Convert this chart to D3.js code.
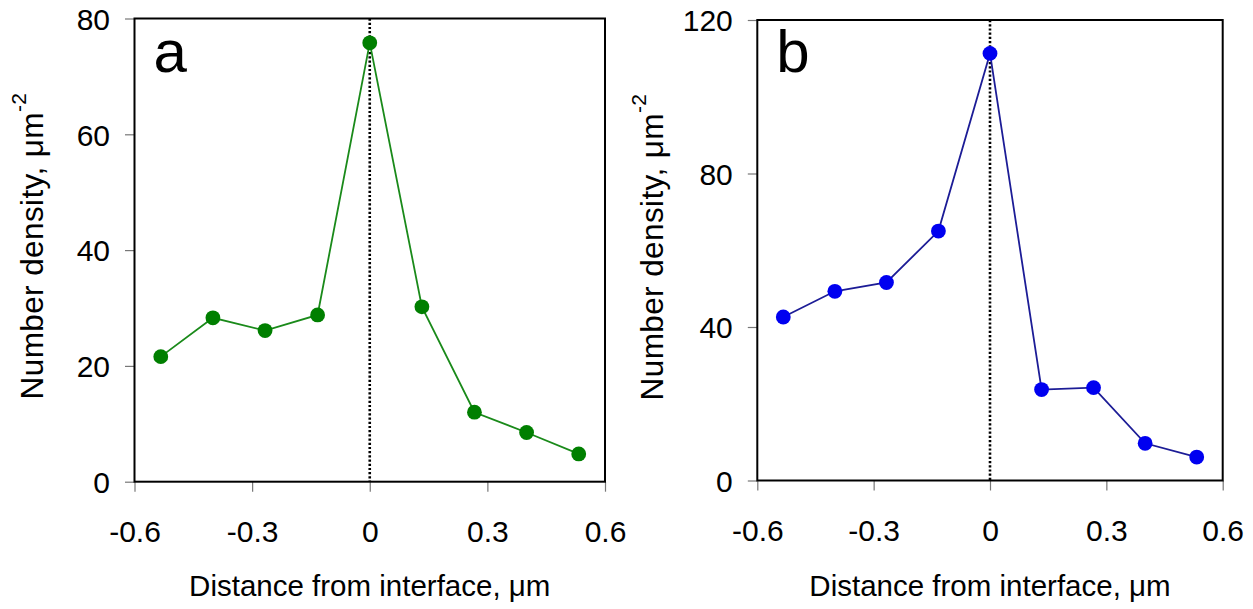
<!DOCTYPE html>
<html>
<head>
<meta charset="utf-8">
<script src="https://cdn.jsdelivr.net/npm/d3@7"></script>
<style>
  html, body { margin: 0; padding: 0; background: #fff; }
  svg { display: block; font-family: "Liberation Sans", Arial, sans-serif; }
</style>
</head>
<body>
<svg id="chart" width="1253" height="609"></svg>
<script>
// ---- data ----
const distance = [-0.533, -0.4, -0.267, -0.133, 0, 0.133, 0.267, 0.4, 0.533];
const densityA = [21.6, 28.3, 26.1, 28.8, 75.8, 30.2, 12.0, 8.5, 4.8];
const densityB = [42.6, 49.3, 51.6, 65.0, 111.3, 23.7, 24.2, 9.7, 6.1];
const xTicks = [-0.6, -0.3, 0, 0.3, 0.6];
const yTicksA = [0, 20, 40, 60, 80];
const yTicksB = [0, 40, 80, 120];
const xLabel = "Distance from interface, \u03bcm";
const yLabel = "Number density, \u03bcm";
const panelLabels = ["a", "b"];

const svg = d3.select("#chart");

const panels = [
  { label: panelLabels[0], values: densityA, yTicks: yTicksA, yMax: 80,
    x0: 134.5, x1: 605, y0: 481.7, y1: 18.5,
    lineColor: "#1a8a1a", dotColor: "#007f00", yTitleX: 43, yTitleY: 246 },
  { label: panelLabels[1], values: densityB, yTicks: yTicksB, yMax: 120,
    x0: 757.3, x1: 1222.7, y0: 480.5, y1: 20,
    lineColor: "#1c1c96", dotColor: "#0000f0", yTitleX: 663, yTitleY: 247 }
];

panels.forEach(p => {
  const g = svg.append("g");
  const x = d3.scaleLinear().domain([-0.6, 0.6]).range([p.x0, p.x1]);
  const y = d3.scaleLinear().domain([0, p.yMax]).range([p.y0, p.y1]);

  // y axis
  const ya = g.append("g").attr("transform", `translate(${p.x0},0)`)
    .call(d3.axisLeft(y).tickValues(p.yTicks).tickSize(9.5).tickPadding(15).tickFormat(d => String(d)));
  ya.select(".domain").remove();
  ya.selectAll(".tick line").attr("stroke", "#777").attr("stroke-width", 1.2);
  ya.selectAll("text").attr("font-size", 30).attr("fill", "#000")
    .attr("font-family", "Liberation Sans, Arial, sans-serif").attr("dy", "0.36em");

  // x axis
  const xa = g.append("g").attr("transform", `translate(0,${p.y0})`)
    .call(d3.axisBottom(x).tickValues(xTicks).tickSize(10).tickFormat(d => String(d)));
  xa.select(".domain").remove();
  xa.selectAll(".tick line").attr("stroke", "#777").attr("stroke-width", 1.2);
  xa.selectAll("text").attr("font-size", 30).attr("fill", "#000")
    .attr("font-family", "Liberation Sans, Arial, sans-serif")
    .attr("dy", null).attr("y", 60);

  // frame
  g.append("rect")
    .attr("x", p.x0).attr("y", p.y1)
    .attr("width", p.x1 - p.x0).attr("height", p.y0 - p.y1)
    .attr("fill", "none").attr("stroke", "#000").attr("stroke-width", 2);

  // dotted interface line
  g.append("line")
    .attr("x1", x(0)).attr("x2", x(0))
    .attr("y1", y(p.yMax)).attr("y2", y(0))
    .attr("stroke", "#000").attr("stroke-width", 2.6)
    .attr("stroke-dasharray", "2.2,2");

  // line
  const pts = distance.map((d, i) => [d, p.values[i]]);
  g.append("path")
    .datum(pts)
    .attr("fill", "none")
    .attr("stroke", p.lineColor)
    .attr("stroke-width", 1.8)
    .attr("d", d3.line().x(d => x(d[0])).y(d => y(d[1])));

  g.selectAll("circle.pt").data(pts).enter().append("circle")
    .attr("class", "pt")
    .attr("cx", d => x(d[0])).attr("cy", d => y(d[1]))
    .attr("r", 7.4).attr("fill", p.dotColor);

  // panel label
  g.append("text").attr("x", p.x0 + 19).attr("y", 72)
    .attr("font-size", 60).attr("fill", "#000").text(p.label);

  // x title
  g.append("text").attr("x", x(0)).attr("y", 596)
    .attr("text-anchor", "middle").attr("font-size", 29.5).attr("fill", "#000")
    .text(xLabel);

  // y title
  const yt = g.append("text")
    .attr("transform", `translate(${p.yTitleX},${p.yTitleY}) rotate(-90)`)
    .attr("text-anchor", "middle").attr("font-size", 31.5).attr("fill", "#000")
    .attr("letter-spacing", 0.4);
  yt.append("tspan").text(yLabel);
  yt.append("tspan").attr("font-size", 21).attr("dy", -17).text("-2");
});
</script>
</body>
</html>
